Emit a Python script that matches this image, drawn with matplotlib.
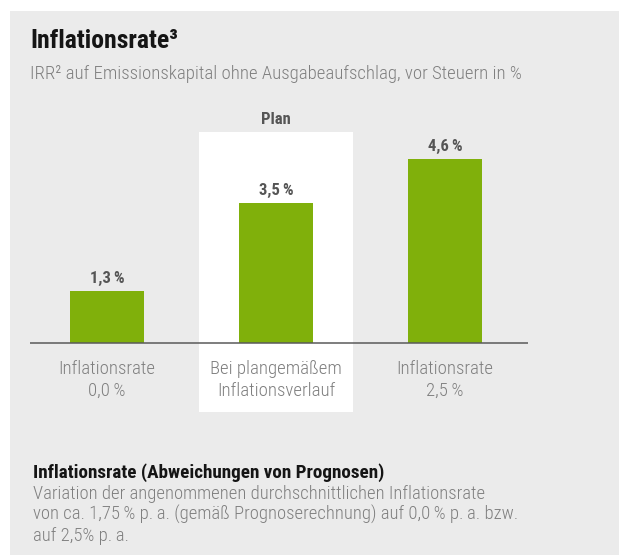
import matplotlib
matplotlib.use("Agg")
import matplotlib.pyplot as plt
from matplotlib.patches import Rectangle

plt.rcParams['font.family'] = ['Roboto Condensed', 'DejaVu Sans']

# data
categories = ["Inflationsrate\n0,0\u2009%", "Bei plangemäßem\nInflationsverlauf", "Inflationsrate\n2,5\u2009%"]
irr = [1.3, 3.5, 4.6]
plan_index = 1
title = "Inflationsrate³"
subtitle = "IRR² auf Emissionskapital ohne Ausgabeaufschlag, vor Steuern in %"
note_head = "Inflationsrate (Abweichungen von Prognosen)"
note_lines = ["Variation der angenommenen durchschnittlichen Inflationsrate",
              "von ca. 1,75\u2009% p.\u2009a. (gemäß Prognoserechnung) auf 0,0\u2009% p.\u2009a. bzw.",
              "auf 2,5% p.\u2009a."]

W, H = 620, 558
def fx(px): return px / W
def fy(py): return 1 - py / H
def pt(px): return px * 72 / 100

bg = "#ebebeb"
green = "#80b00b"
dark = "#555555"
grey = "#7f7f7f"

fig = plt.figure(figsize=(6.2, 5.58), dpi=100)
fig.patch.set_facecolor("white")
fig.patches.append(Rectangle((fx(10), fy(555)), fx(609), (555 - 11) / H,
                             transform=fig.transFigure, facecolor=bg, edgecolor="none", zorder=-5))

fig.text(fx(30), fy(48), title, fontsize=18.5, fontweight="bold", color="#151515", va="baseline")
fig.text(fx(30), fy(79), subtitle, fontsize=13.5, fontweight="light", color=grey, va="baseline")

# chart
scale = 40.0  # px per percentage point
ax = fig.add_axes([fx(30), fy(412), (528 - 30) / W, (412 - 132) / H])
ax.set_xlim(-0.456, 2.491)
ax.set_ylim(-(412 - 343) / scale, (343 - 132) / scale)
ax.axis("off")

ax.axvspan(plan_index - 0.456, plan_index + 0.456, color="white", zorder=0, lw=0)
x = list(range(len(irr)))
ax.bar(x, irr, width=0.438, color=green, zorder=2)
ax.axhline(0, color="#5a5a5a", lw=1.1, zorder=3)

for i, v in zip(x, irr):
    ax.annotate(f"{v:.1f}".replace(".", ",") + "\u2009%", xy=(i, v), xytext=(0, pt(8)),
                textcoords="offset points", ha="center", va="baseline",
                fontsize=12, fontweight="semibold", color=dark)
    for k, line in enumerate(categories[i].split("\n")):
        ax.annotate(line, xy=(i, 0), xytext=(0, -pt(31 + 22 * k)), textcoords="offset points",
                    ha="center", va="baseline", fontsize=13.5, fontweight="light", color=grey)

ax.annotate("Plan", xy=(plan_index, 1), xycoords=("data", "axes fraction"), xytext=(0, pt(8)),
            textcoords="offset points", ha="center", va="baseline",
            fontsize=12, fontweight="semibold", color=dark, annotation_clip=False)

fig.text(fx(33), fy(478), note_head, fontsize=13.8, fontweight="bold", color="#151515", va="baseline")
for k, line in enumerate(note_lines):
    fig.text(fx(33), fy(499 + 21 * k), line, fontsize=13.4, fontweight="light", color=grey, va="baseline")

fig.savefig("out.png", dpi=100, facecolor="white")
